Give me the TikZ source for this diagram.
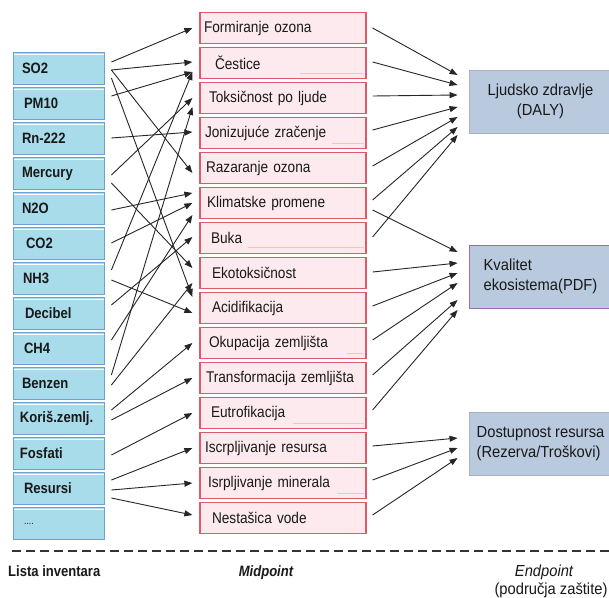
\documentclass[tikz,border=0pt]{standalone}
\usepackage{fontspec}
\setmainfont{Liberation Sans}
\newfontfamily\lfont[FakeStretch=0.87]{Liberation Sans}
\newfontfamily\mfont[FakeStretch=0.88]{Liberation Sans}
\newfontfamily\rfont[FakeStretch=0.92]{Liberation Sans}
\usetikzlibrary{arrows.meta}
\definecolor{lfill}{RGB}{168,220,234}
\definecolor{lborder}{RGB}{110,160,210}
\definecolor{mfill}{RGB}{253,234,239}
\definecolor{mborder}{RGB}{222,90,105}
\definecolor{rfill}{RGB}{185,201,222}
\definecolor{rborderA}{RGB}{170,175,190}
\definecolor{rborderB}{RGB}{150,110,180}
\definecolor{txt}{RGB}{25,25,25}
\definecolor{sq}{RGB}{250,200,150}
\newcommand\lnk[4]{\draw[arr] ([xshift=7pt,yshift=#2pt]#1.east) -- ([xshift=-7pt,yshift=#4pt]#3.west);}
\newcommand\rlnk[4]{\draw[arr] ([xshift=6pt,yshift=#2pt]#1.east) -- ([xshift=-11pt,yshift=#4pt]#3.west);}
\begin{document}
\begin{tikzpicture}[x=1pt,y=-1pt,
  lbox/.style={draw=lborder, fill=lfill, line width=0.8pt, minimum width=91pt, minimum height=32.5pt,
    text width=73pt, inner xsep=0pt, align=left, font=\lfont\bfseries\fontsize{15}{17}\selectfont, text=txt,
    path picture={\draw[white,line width=1.3pt] ([yshift=-2pt]path picture bounding box.north west) -- ([yshift=-2pt]path picture bounding box.north east);}},
  mbox/.style={draw=mborder, fill=mfill, line width=1.2pt, minimum width=166pt, minimum height=31.5pt,
    text width=156pt, inner xsep=0pt, align=left, font=\mfont\fontsize{15.5}{17}\selectfont, text=txt},
  rbox/.style={fill=rfill, line width=0.9pt, minimum width=143pt, minimum height=63pt,
    font=\rfont\fontsize{16}{20}\selectfont, text=txt},
  arr/.style={-{Triangle[length=8pt,width=6pt]}, line width=0.9pt, draw=black!85},
  lbl/.style={text=txt, inner sep=0pt},
  squig/.style={draw=sq, line width=0.7pt}]
\useasboundingbox (0,0) rectangle (609,597);
\fill[white] (0,0) rectangle (609,597);
% left inventory boxes
\node[lbox] (L1) at (58.5,68.5) {SO2};
\node[lbox] (L2) at (58.5,103.5) {\hspace{2pt}PM10};
\node[lbox] (L3) at (58.5,138.5) {Rn-222};
\node[lbox] (L4) at (58.5,173.5) {Mercury};
\node[lbox] (L5) at (58.5,208.5) {N2O};
\node[lbox] (L6) at (58.5,243.5) {\hspace{4pt}CO2};
\node[lbox] (L7) at (58.5,278.5) {\hspace{1pt}NH3};
\node[lbox] (L8) at (58.5,313.5) {\hspace{3pt}Decibel};
\node[lbox] (L9) at (58.5,348.5) {\hspace{2pt}CH4};
\node[lbox] (L10) at (58.5,383.5) {Benzen};
\node[lbox] (L11) at (58.5,418.5) {\hspace{-2pt}Kori\v{s}.zemlj.};
\node[lbox] (L12) at (58.5,453.5) {\hspace{-2pt}Fosfati};
\node[lbox] (L13) at (58.5,488.5) {\hspace{2pt}Resursi};
\node[lbox] (L14) at (58.5,523.5) {\hspace{2pt}{\fontsize{10}{12}\selectfont\mdseries ....}};
% midpoint boxes
\node[mbox] (M1) at (283,28) {\hspace{-1pt}Formiranje ozona};
\node[mbox] (M2) at (283,63) {\hspace{10pt}\v{C}estice};
\node[mbox] (M3) at (283,98) {\hspace{4pt}Toksi\v{c}nost po ljude};
\node[mbox] (M4) at (283,133) {Jonizuju\'ce zra\v{c}enje};
\node[mbox] (M5) at (283,168) {\hspace{1pt}Razaranje ozona};
\node[mbox] (M6) at (283,203) {\hspace{2pt}Klimatske promene};
\node[mbox] (M7) at (283,238) {\hspace{6pt}Buka};
\node[mbox] (M8) at (283,273) {\hspace{7pt}Ekotoksi\v{c}nost};
\node[mbox] (M9) at (283,308) {\hspace{7pt}Acidifikacija};
\node[mbox] (M10) at (283,343) {\hspace{4pt}Okupacija zemlji\v{s}ta};
\node[mbox] (M11) at (283,378) {\hspace{1pt}Transformacija zemlji\v{s}ta};
\node[mbox] (M12) at (283,413) {\hspace{6pt}Eutrofikacija};
\node[mbox] (M13) at (283,448) {Iscrpljivanje resursa};
\node[mbox] (M14) at (283,483) {\hspace{3pt}Isrpljivanje minerala};
\node[mbox] (M15) at (283,518) {\hspace{7pt}Nesta\v{s}ica vode};
% spell-check marks
\draw[squig] (300,73) -- (363,73);
\draw[squig] (332,143) -- (364,143);
\draw[squig] (248,247) -- (364,247);
\draw[squig] (347,353) -- (363,353);
\draw[squig] (293,423) -- (364,423);
\draw[squig] (337,493) -- (364,493);
% endpoint boxes
\node[rbox, draw=rborderA, align=center] (R1) at (540.5,101.5) {Ljudsko zdravlje\\(DALY)};
\node[rbox, draw=rborderB, align=left] (R2) at (540.5,276.5) {Kvalitet\\ekosistema(PDF)};
\node[rbox, draw=rborderA, align=left] (R3) at (540.5,443.5) {Dostupnost resursa\\(Rezerva/Tro\v{s}kovi)};
% inventory -> midpoint
\lnk{L1}{6.5}{M1}{0}
\lnk{L1}{-1.5}{M2}{1}
\lnk{L1}{-1.5}{M5}{-5}
\lnk{L1}{-9.5}{M9}{11}
\lnk{L2}{7.5}{M2}{-9}
\lnk{L3}{0.5}{M4}{1}
\lnk{L4}{-1.5}{M3}{0}
\lnk{L4}{-9.5}{M8}{5}
\lnk{L5}{-1.5}{M6}{10}
\lnk{L6}{0.5}{M6}{0}
\lnk{L7}{8.5}{M2}{-9}
\lnk{L7}{-1.5}{M9}{-5}
\lnk{L8}{8.5}{M7}{1}
\lnk{L9}{8.5}{M6}{-12}
\lnk{L10}{8.5}{M3}{-9}
\lnk{L10}{-1.5}{M8}{-10}
\lnk{L11}{8.5}{M10}{0}
\lnk{L11}{-1.5}{M11}{0}
\lnk{L12}{-1.5}{M12}{0}
\lnk{L13}{8.5}{M13}{0}
\lnk{L13}{-1.5}{M14}{0}
\lnk{L13}{-9.5}{M15}{3}
% midpoint -> endpoint
\rlnk{M1}{0}{R1}{26.5}
\rlnk{M2}{1}{R1}{16.5}
\rlnk{M3}{2}{R1}{6.5}
\rlnk{M4}{3}{R1}{-5.5}
\rlnk{M5}{2}{R1}{-15.5}
\rlnk{M6}{3}{R1}{-25.5}
\rlnk{M7}{1}{R1}{-33.5}
\rlnk{M6}{-7}{R2}{24.5}
\rlnk{M8}{1}{R2}{13.5}
\rlnk{M9}{2}{R2}{3.5}
\rlnk{M10}{3}{R2}{-6.5}
\rlnk{M11}{3}{R2}{-23.5}
\rlnk{M12}{3}{R2}{-33.5}
\rlnk{M13}{2}{R3}{5.5}
\rlnk{M14}{3}{R3}{-4.5}
\rlnk{M15}{3}{R3}{-14.5}
% separator
\coordinate (sepA) at (12,551);
\coordinate (sepB) at (609,551);
\draw[black!80, line width=2pt, dash pattern=on 9pt off 5pt] (sepA) -- (sepB);
% bottom labels
\node[lbl, font=\lfont\bfseries\fontsize{15}{17}\selectfont, anchor=west] (inv) at (8,571) {Lista inventara};
\node[lbl, font=\lfont\bfseries\itshape\fontsize{15}{17}\selectfont] (mid) at (266,573) {Midpoint};
\node[lbl, font=\rfont\itshape\fontsize{16}{18}\selectfont] (endp) at (544,572) {Endpoint};
\node[lbl, font=\rfont\fontsize{16}{18}\selectfont] (prot) at (551,590) {(podru\v{c}ja za\v{s}tite)};
\end{tikzpicture}
\end{document}
